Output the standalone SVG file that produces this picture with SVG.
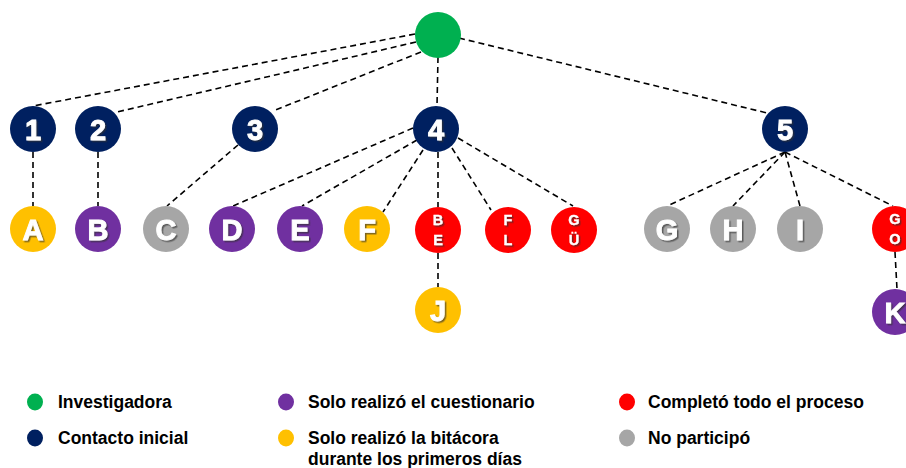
<svg xmlns="http://www.w3.org/2000/svg" width="906" height="468" viewBox="0 0 906 468">
<defs>
<filter id="sh" x="-30%" y="-30%" width="160%" height="160%">
<feDropShadow dx="1.5" dy="1.5" stdDeviation="0.6" flood-color="#303030" flood-opacity="0.65"/>
</filter>
</defs>
<style>
.e{stroke:#000;stroke-width:1.6;stroke-dasharray:6 4;fill:none}
.big{font-family:"Liberation Sans",Arial,sans-serif;font-weight:bold;font-size:29px;fill:#fff;stroke:#fff;stroke-width:0.9;text-anchor:middle;filter:url(#sh)}
.sm{font-family:"Liberation Sans",Arial,sans-serif;font-weight:bold;font-size:14.5px;fill:#fff;stroke:#fff;stroke-width:0.3;text-anchor:middle;filter:url(#sh)}
.lg{font-family:"Liberation Sans",Arial,sans-serif;font-weight:bold;font-size:17.5px;fill:#000}
.gr{fill:#00B050}.nv{fill:#002060}.pu{fill:#7030A0}.ye{fill:#FFC000}.rd{fill:#FF0000}.gy{fill:#A6A6A6}
</style>
<rect width="906" height="468" fill="#fff"/>
<g id="connectors">
<line class="e" x1="415" y1="34" x2="33" y2="106"/>
<line class="e" x1="416" y1="42" x2="117" y2="112"/>
<line class="e" x1="421" y1="52" x2="273" y2="111"/>
<line class="e" x1="438" y1="57" x2="437" y2="106"/>
<line class="e" x1="459" y1="38" x2="767" y2="113"/>
<line class="e" x1="33" y1="152" x2="33" y2="206"/>
<line class="e" x1="98" y1="152" x2="98" y2="206"/>
<line class="e" x1="238" y1="145" x2="167" y2="206"/>
<line class="e" x1="413" y1="128" x2="233" y2="206"/>
<line class="e" x1="417" y1="140" x2="302" y2="206"/>
<line class="e" x1="423" y1="150" x2="383" y2="212"/>
<line class="e" x1="438" y1="152" x2="438" y2="207"/>
<line class="e" x1="452" y1="148" x2="491" y2="210"/>
<line class="e" x1="458" y1="138" x2="573" y2="206"/>
<line class="e" x1="438" y1="253" x2="438" y2="287"/>
<line class="e" x1="785" y1="152" x2="667" y2="206"/>
<line class="e" x1="785" y1="152" x2="733" y2="206"/>
<line class="e" x1="785" y1="152" x2="800" y2="206"/>
<line class="e" x1="785" y1="152" x2="893" y2="206"/>
<line class="e" x1="895" y1="252" x2="897" y2="289"/>
</g>
<g id="root"><circle class="gr" cx="438" cy="35" r="23"/></g>
<g id="n1"><circle class="nv" cx="33" cy="129" r="23"/><text class="big" x="33" y="140">1</text></g>
<g id="n2"><circle class="nv" cx="98" cy="129" r="23"/><text class="big" x="98" y="140">2</text></g>
<g id="n3"><circle class="nv" cx="255" cy="129" r="23"/><text class="big" x="255" y="140">3</text></g>
<g id="n4"><circle class="nv" cx="436" cy="129" r="23"/><text class="big" x="436" y="140">4</text></g>
<g id="n5"><circle class="nv" cx="785" cy="129" r="23"/><text class="big" x="785" y="140">5</text></g>
<g id="nA"><circle class="ye" cx="33" cy="229" r="23"/><text class="big" x="33" y="240">A</text></g>
<g id="nB"><circle class="pu" cx="98" cy="229" r="23"/><text class="big" x="98" y="240">B</text></g>
<g id="nC"><circle class="gy" cx="166" cy="229" r="23"/><text class="big" x="166" y="240">C</text></g>
<g id="nD"><circle class="pu" cx="232" cy="229" r="23"/><text class="big" x="232" y="240">D</text></g>
<g id="nE"><circle class="pu" cx="300" cy="229" r="23"/><text class="big" x="300" y="240">E</text></g>
<g id="nF"><circle class="ye" cx="367" cy="229" r="23"/><text class="big" x="367" y="240">F</text></g>
<g id="nBE"><circle class="rd" cx="438" cy="230" r="23"/><text class="sm" x="438" y="225">B</text><text class="sm" x="438" y="245">E</text></g>
<g id="nFL"><circle class="rd" cx="508" cy="230" r="23"/><text class="sm" x="508" y="225">F</text><text class="sm" x="508" y="245">L</text></g>
<g id="nGU"><circle class="rd" cx="574" cy="230" r="23"/><text class="sm" x="574" y="225">G</text><text class="sm" x="574" y="245">Ü</text></g>
<g id="nG"><circle class="gy" cx="667" cy="229" r="23"/><text class="big" x="667" y="240">G</text></g>
<g id="nH"><circle class="gy" cx="733" cy="229" r="23"/><text class="big" x="733" y="240">H</text></g>
<g id="nI"><circle class="gy" cx="800" cy="229" r="23"/><text class="big" x="800" y="240">I</text></g>
<g id="nGO"><circle class="rd" cx="895" cy="229" r="23"/><text class="sm" x="895" y="224">G</text><text class="sm" x="895" y="244">O</text></g>
<g id="nJ"><circle class="ye" cx="438" cy="310" r="23"/><text class="big" x="438" y="321">J</text></g>
<g id="nK"><circle class="pu" cx="895" cy="312" r="23"/><text class="big" x="895" y="323">K</text></g>
<g id="legend">
<ellipse class="gr" cx="35" cy="402" rx="8" ry="8.5"/><text class="lg" x="58" y="408">Investigadora</text>
<ellipse class="nv" cx="35" cy="438" rx="8" ry="8.5"/><text class="lg" x="58" y="444">Contacto inicial</text>
<ellipse class="pu" cx="286" cy="402" rx="8" ry="8.5"/><text class="lg" x="308" y="408">Solo realizó el cuestionario</text>
<ellipse class="ye" cx="286" cy="438" rx="8" ry="8.5"/><text class="lg" x="308" y="444">Solo realizó la bitácora</text>
<text class="lg" x="308" y="465">durante los primeros días</text>
<ellipse class="rd" cx="627" cy="402" rx="8" ry="8.5"/><text class="lg" x="648" y="408">Completó todo el proceso</text>
<ellipse class="gy" cx="627" cy="438" rx="8" ry="8.5"/><text class="lg" x="648" y="444">No participó</text>
</g>
</svg>
